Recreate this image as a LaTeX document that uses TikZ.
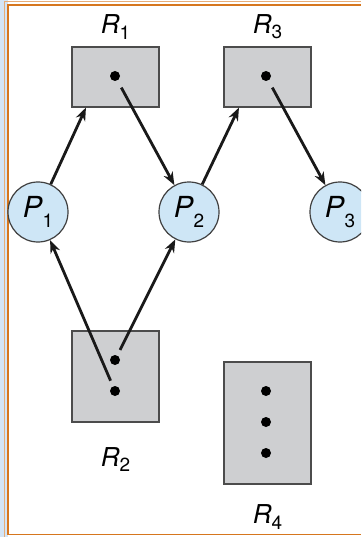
\documentclass[tikz,border=0pt]{standalone}
\usepackage{fontspec}
\setmainfont{TeX Gyre Heros}
\usetikzlibrary{arrows.meta}
\definecolor{boxgray}{RGB}{206,207,209}
\definecolor{procblue}{RGB}{206,230,246}
\definecolor{framebrown}{RGB}{214,118,30}
\definecolor{stripblue}{RGB}{212,229,246}
\newcommand{\lbl}[3]{\textit{#1}\raisebox{-#3}{\fontsize{19}{19}\selectfont #2}}
\tikzset{
	resbox/.style={draw=black!70, fill=boxgray, line width=1.2pt, minimum width=87pt},
	proc/.style={circle, draw=black!75, fill=procblue, line width=1.2pt, minimum size=60pt, inner sep=0pt, font=\fontsize{29}{29}\selectfont},
	inst/.style={circle, fill=black, minimum size=10pt, inner sep=0pt},
	reslabel/.style={font=\fontsize{26}{26}\selectfont},
	edge/.style={-{Stealth[length=13pt,width=10pt]}, line width=2.8pt, black!90}
}
\begin{document}
\begin{tikzpicture}[x=1pt, y=-1pt]
	\useasboundingbox (0,0) rectangle (361,537);
	\clip (0,0) rectangle (361,537);
	% page frame
	\fill[stripblue] (0,0) rectangle (8,537);
	\fill[white] (8,5) rectangle (361,534);
	\draw[framebrown!60, line width=1pt] (4.5,537) -- (4.5,1.5) -- (361,1.5);
	\draw[framebrown, line width=1.6pt] (8,534.5) -- (8,5) -- (361,5);
	\draw[framebrown, line width=1.6pt] (8,534.5) -- (361,534.5);
	% processes
	\node[proc] (p1) at (38,212) {\lbl{P}{1}{0.35em}};
	\node[proc] (p2) [right of=p1, node distance=151pt] {\lbl{P}{2}{0.35em}};
	\node[proc] (p3) [right of=p2, node distance=151pt] {\lbl{P}{3}{0.35em}};
	% resources
	\node[resbox, minimum height=60pt] (r1) at (115.5,77) {};
	\node[resbox, minimum height=60pt] (r3) at (267.5,77) {};
	\node[resbox, minimum height=91pt] (r2) at (115.5,376.5) {};
	\node[resbox, minimum height=122pt] (r4) at (267.5,423) {};
	\node[reslabel] (r1lbl) [above of=r1, node distance=50pt] {\lbl{R}{1}{0.2em}};
	\node[reslabel] (r3lbl) [above of=r3, node distance=50pt] {\lbl{R}{3}{0.2em}};
	\node[reslabel] (r2lbl) [below of=r2, node distance=83pt] {\lbl{R}{2}{0.2em}};
	\node[reslabel] (r4lbl) [below of=r4, node distance=94pt] {\lbl{R}{4}{0.2em}};
	% instances
	\node[inst] (r1a) at (115,76) {};
	\node[inst] (r3a) at (266,76) {};
	\node[inst] (r2a) at (115,360) {};
	\node[inst] (r2b) [below of=r2a, node distance=31pt] {};
	\node[inst] (r4a) at (266,391) {};
	\node[inst] (r4b) [below of=r4a, node distance=31pt] {};
	\node[inst] (r4c) [below of=r4b, node distance=31pt] {};
	% requests and assignments
	\draw[edge] (p1) -- (r1.-134);
	\draw[edge, shorten <=8pt] (r1a) -- (p2);
	\draw[edge] (p2) -- (r3.-133);
	\draw[edge, shorten <=8pt] (r3a) -- (p3);
	\draw[edge, shorten <=6pt] (r2b) -- (p1);
	\draw[edge, shorten <=6pt] (r2a) -- (p2);
\end{tikzpicture}
\end{document}
